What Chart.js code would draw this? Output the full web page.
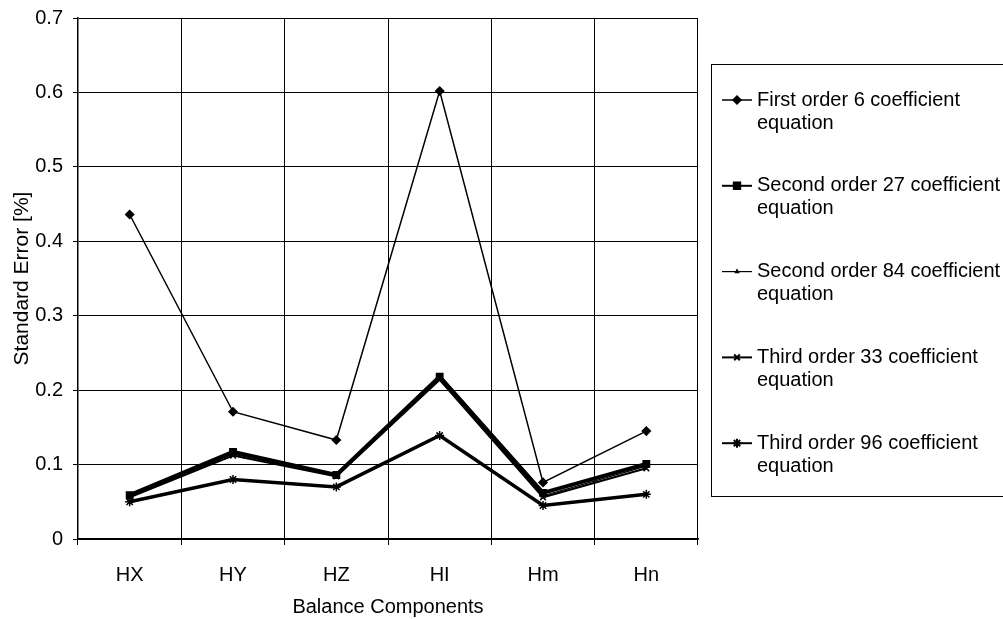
<!DOCTYPE html>
<html>
<head>
<meta charset="utf-8">
<script src="https://cdn.jsdelivr.net/npm/chart.js@4/dist/chart.umd.min.js"></script>
<style>
  html, body { margin: 0; padding: 0; background: #fff; }
  #wrap { width: 1003px; height: 619px; position: relative; }
</style>
</head>
<body>
<div id="wrap"><canvas id="myChart" width="1003" height="619"></canvas></div>
<script>
// categories and series
var components = ["HX", "HY", "HZ", "HI", "Hm", "Hn"];
var yTicks = [0, 0.1, 0.2, 0.3, 0.4, 0.5, 0.6, 0.7];

var first6 = [0.436, 0.171, 0.133, 0.602, 0.076, 0.145];
var second27 = [0.059, 0.117, 0.086, 0.218, 0.062, 0.101];
var second84 = [0.057, 0.114, 0.085, 0.216, 0.058, 0.098];
var third33 = [0.056, 0.112, 0.084, 0.214, 0.056, 0.095];
var third96 = [0.050, 0.080, 0.070, 0.139, 0.045, 0.060];

var legendNames = [
  ["First order 6 coefficient", "equation"],
  ["Second order 27 coefficient", "equation"],
  ["Second order 84 coefficient", "equation"],
  ["Third order 33 coefficient", "equation"],
  ["Third order 96 coefficient", "equation"]
];

const FONT = "'Liberation Sans', Arial, Helvetica, sans-serif";
Chart.defaults.font.family = FONT;
Chart.defaults.font.size = 20;
Chart.defaults.color = "#000";

const makeSet = (label, data, style, radius, width) => ({
  label: label,
  data: data,
  borderColor: "#000",
  backgroundColor: "#000",
  pointBackgroundColor: "#000",
  pointBorderColor: "#000",
  pointStyle: style,
  pointRadius: radius,
  pointBorderWidth: 1.5,
  borderWidth: width,
  tension: 0,
  fill: false
});

// boxed legend at the right, two lines per entry
const boxLegend = {
  id: "boxLegend",
  afterDraw(chart) {
    let ctx = chart.ctx;
    ctx.save();
    ctx.strokeStyle = "#000";
    ctx.lineWidth = 1;
    ctx.strokeRect(711.5, 64.5, 320, 432);
    ctx.font = "20px " + FONT;
    ctx.fillStyle = "#000";
    ctx.textBaseline = "middle";
    chart.data.datasets.forEach(function (ds, i) {
      let y = 100 + i * 85.8;
      ctx.beginPath();
      ctx.lineWidth = Math.min(ds.borderWidth, 2);
      ctx.moveTo(722, y);
      ctx.lineTo(752, y);
      ctx.stroke();
      Chart.helpers.drawPoint(ctx, {
        pointStyle: ds.pointStyle,
        radius: ds.pointRadius,
        rotation: 0,
        borderWidth: 1.5
      }, 737, y);
      ctx.fillText(legendNames[i][0], 757, y);
      ctx.fillText(legendNames[i][1], 757, y + 23);
    });
    ctx.restore();
  }
};

new Chart("myChart", {
  type: "line",
  data: {
    labels: components,
    datasets: [
      makeSet(legendNames[0].join(" "), first6, "rectRot", 4, 1.5),
      makeSet(legendNames[1].join(" "), second27, "rect", 4.5, 4),
      makeSet(legendNames[2].join(" "), second84, "triangle", 2, 1.2),
      makeSet(legendNames[3].join(" "), third33, "crossRot", 4, 2),
      makeSet(legendNames[4].join(" "), third96, "star", 4.5, 3.5)
    ]
  },
  options: {
    responsive: false,
    animation: false,
    layout: { padding: { left: 0, right: 305, top: 18, bottom: 0 } },
    plugins: {
      legend: { display: false },
      tooltip: { enabled: false }
    },
    scales: {
      x: {
        offset: true,
        afterFit(scale) { scale.height = 80; },
        grid: { offset: true, color: "#000", lineWidth: 1, tickLength: 6 },
        border: { color: "#000", width: 1.5 },
        ticks: { padding: 18, color: "#000", font: { size: 20 } },
        title: { display: true, text: "Balance Components", font: { size: 20 }, padding: { top: 4, bottom: 0 } }
      },
      y: {
        min: 0,
        max: 0.7,
        afterBuildTicks(scale) {
          scale.ticks = yTicks.map(v => ({ value: v }));
        },
        afterFit(scale) {
          scale.width = 78;
          scale.paddingTop = 0;
          scale.paddingBottom = 0;
        },
        grid: { color: "#000", lineWidth: 1, tickLength: 5 },
        border: { color: "#000", width: 1.5 },
        ticks: {
          padding: 10,
          color: "#000",
          font: { size: 20 },
          callback: v => String(v)
        },
        title: { display: true, text: "Standard Error [%]", font: { size: 21 }, padding: { top: 10, bottom: 4 } }
      }
    }
  },
  plugins: [boxLegend]
});
</script>
</body>
</html>
